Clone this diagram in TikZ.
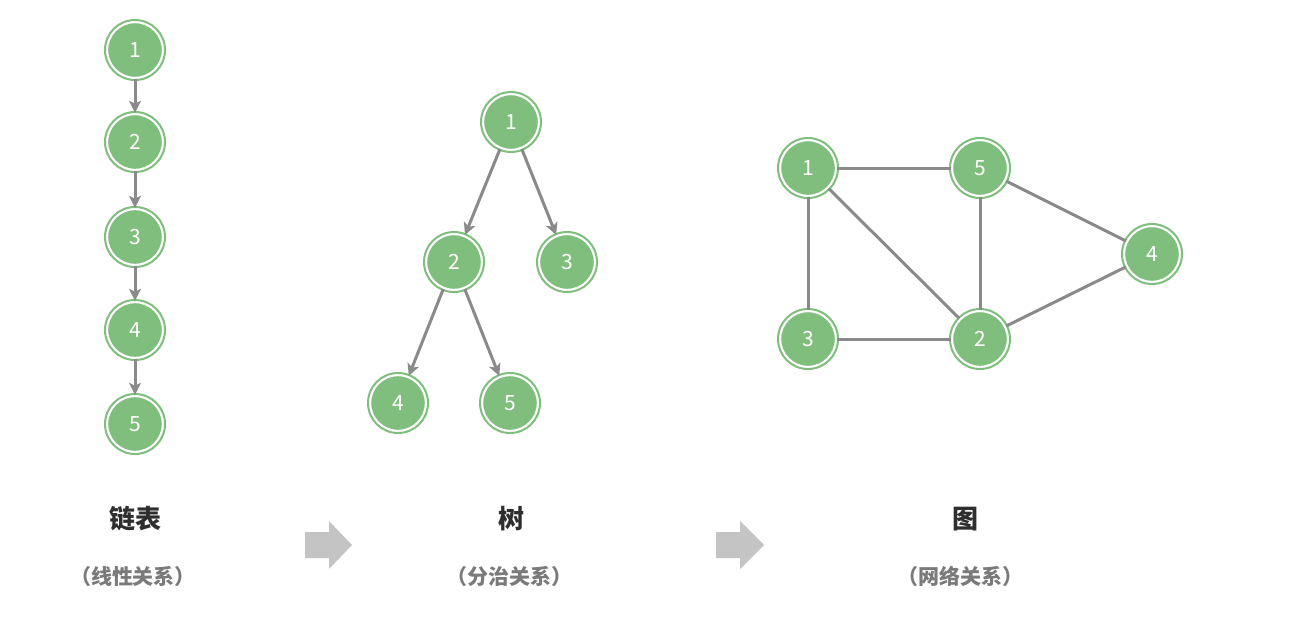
\documentclass[tikz,border=0pt]{standalone}
\usepackage{fontspec}
\setmainfont{Noto Sans CJK SC}
\newfontfamily\cjk{Noto Sans CJK SC}
\usetikzlibrary{arrows.meta}
\definecolor{ngreen}{HTML}{80BE7E}
\definecolor{nedge}{HTML}{8A8A8A}
\definecolor{bigarrow}{HTML}{C4C4C4}
\definecolor{titlecol}{HTML}{2E2E2E}
\definecolor{subcol}{HTML}{7A7A7A}
\tikzset{
  vnode/.style={circle, fill=ngreen, draw=white, line width=2.4pt, minimum size=56pt, inner sep=0pt,
    text=white, font=\cjk\fontsize{21}{21}\selectfont},
  ring/.style={draw=ngreen, line width=2pt},
  dedge/.style={draw=nedge, line width=3pt, -{Stealth[length=12pt,width=12pt,inset=3pt]}},
  uedge/.style={draw=nedge, line width=3pt},
  title/.style={font=\cjk\bfseries\fontsize{26}{26}\selectfont, text=titlecol},
  subtitle/.style={font=\cjk\bfseries\fontsize{21}{21}\selectfont, text=subcol},
  bigarr/.style={fill=bigarrow, draw=none}
}
\newcommand{\gnode}[3]{%
  \node[vnode] (#1) at (#2) {#3};
  \draw[ring] (#1.center) circle (30pt);
}
\begin{document}
\begin{tikzpicture}[x=1pt,y=-1pt]
\useasboundingbox[fill=white] (0,0) rectangle (1294,632);
% linked list
\gnode{l1}{135,50}{1}
\gnode{l2}{135,142}{2}
\gnode{l3}{135,237}{3}
\gnode{l4}{135,330}{4}
\gnode{l5}{135,424}{5}
\draw[dedge] (l1) -- (l2);
\draw[dedge] (l2) -- (l3);
\draw[dedge] (l3) -- (l4);
\draw[dedge] (l4) -- (l5);
% tree
\gnode{t1}{511,122}{1}
\gnode{t2}{454,262}{2}
\gnode{t3}{567,262}{3}
\gnode{t4}{398,403}{4}
\gnode{t5}{510,403}{5}
\draw[dedge] (t1) -- (t2);
\draw[dedge] (t1) -- (t3);
\draw[dedge] (t2) -- (t4);
\draw[dedge] (t2) -- (t5);
% graph
\gnode{g1}{808,168}{1}
\gnode{g5}{980,168}{5}
\gnode{g4}{1152,254}{4}
\gnode{g3}{808,339}{3}
\gnode{g2}{980,339}{2}
\draw[uedge] (g1) -- (g5);
\draw[uedge] (g1) -- (g3);
\draw[uedge] (g1) -- (g2);
\draw[uedge] (g5) -- (g2);
\draw[uedge] (g5) -- (g4);
\draw[uedge] (g3) -- (g2);
\draw[uedge] (g2) -- (g4);
% labels
\node[title] (lt) at (135,519) {链表};
\node[subtitle] (ls) at (133,576) {（线性关系）};
\node[title] (tt) at (511,519) {树};
\node[subtitle] (ts) at (509,576) {（分治关系）};
\node[title] (gt) at (965,519) {图};
\node[subtitle] (gs) at (960,576) {（网络关系）};
% big arrows
\fill[bigarr] (305,532) -- (329,532) -- (329,521) -- (352,545) -- (329,569) -- (329,558) -- (305,558) -- cycle;
\fill[bigarr] (716,532) -- (740,532) -- (740,521) -- (764,545) -- (740,569) -- (740,558) -- (716,558) -- cycle;
\end{tikzpicture}
\end{document}
